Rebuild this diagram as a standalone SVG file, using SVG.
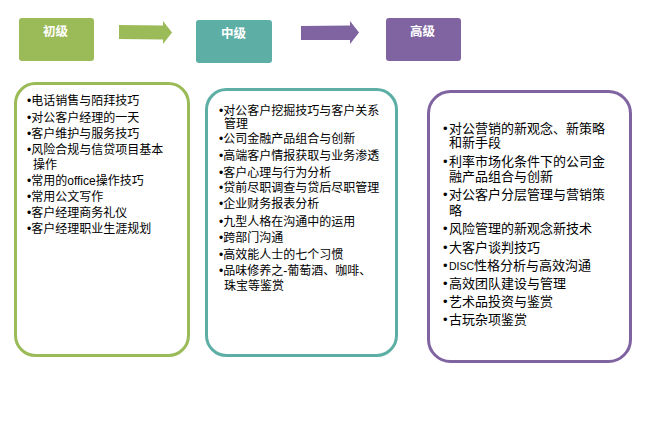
<svg xmlns="http://www.w3.org/2000/svg" width="646" height="438" viewBox="0 0 646 438">
<style>
.hd{font-family:"Liberation Sans","Noto Sans CJK SC",sans-serif;font-size:12.5px;font-weight:bold;fill:#fff;text-anchor:middle}
.t{font-family:"Liberation Sans","Noto Sans CJK SC",sans-serif;font-size:12px;fill:#000}
.t13{font-family:"Liberation Sans","Noto Sans CJK SC",sans-serif;font-size:13px;fill:#000}
.box{fill:#fff;stroke-width:3}
</style>
<rect width="646" height="438" fill="#fff"/>
<g id="connectors">
<polygon points="119,25 163,25.5 163,21 172,32.5 163,44 163,39.5 119,39" fill="#9BBB59"/>
<polygon points="301,26 350,25.5 350,21 359,32.5 350,44 350,40 301,40" fill="#8064A2"/>
</g>
<g id="h1">
<rect x="19" y="18" width="75" height="43" rx="3" fill="#9BBB59"/>
<text class="hd" x="55.5" y="36">初级</text>
</g>
<g id="h2">
<rect x="196" y="20" width="76" height="43" rx="3" fill="#5DAFA6"/>
<text class="hd" x="233.5" y="38">中级</text>
</g>
<g id="h3">
<rect x="386" y="18" width="75" height="43" rx="3" fill="#8064A2"/>
<text class="hd" x="422.5" y="36">高级</text>
</g>
<g id="b1">
<rect class="box" x="15.5" y="83.5" width="173" height="272" rx="20" stroke="#9BBB59"/>
<text class="t" x="27" y="105">•电话销售与陌拜技巧</text>
<text class="t" x="27" y="121.5">•对公客户经理的一天</text>
<text class="t" x="27" y="137.5">•客户维护与服务技巧</text>
<text class="t" x="27" y="154">•风险合规与信贷项目基本</text>
<text class="t" x="33" y="169">操作</text>
<text class="t" x="27" y="184.5">•常用的office操作技巧</text>
<text class="t" x="27" y="200.5">•常用公文写作</text>
<text class="t" x="27" y="217">•客户经理商务礼仪</text>
<text class="t" x="27" y="233">•客户经理职业生涯规划</text>
</g>
<g id="b2">
<rect class="box" x="206.5" y="89.5" width="190" height="266" rx="20" stroke="#5DAFA6"/>
<text class="t" x="219" y="114.5">•对公客户挖掘技巧与客户关系</text>
<text class="t" x="224" y="128">管理</text>
<text class="t" x="219" y="143">•公司金融产品组合与创新</text>
<text class="t" x="219" y="159.5">•高端客户情报获取与业务渗透</text>
<text class="t" x="219" y="177">•客户心理与行为分析</text>
<text class="t" x="219" y="192">•贷前尽职调查与贷后尽职管理</text>
<text class="t" x="219" y="208">•企业财务报表分析</text>
<text class="t" x="219" y="225.5">•九型人格在沟通中的运用</text>
<text class="t" x="219" y="242">•跨部门沟通</text>
<text class="t" x="219" y="259">•高效能人士的七个习惯</text>
<text class="t" x="219" y="275">•品味修养之-葡萄酒、咖啡、</text>
<text class="t" x="224" y="289.5">珠宝等鉴赏</text>
</g>
<g id="b3">
<rect class="box" x="428.5" y="91.5" width="202" height="270" rx="22" stroke="#8064A2"/>
<text class="t13" x="443" y="132.5">•<tspan x="449">对公营销的新观念、新策略</tspan></text>
<text class="t13" x="449" y="147">和新手段</text>
<text class="t13" x="443" y="166">•<tspan x="449">利率市场化条件下的公司金</tspan></text>
<text class="t13" x="449" y="180.5">融产品组合与创新</text>
<text class="t13" x="443" y="199">•<tspan x="449">对公客户分层管理与营销策</tspan></text>
<text class="t13" x="449" y="214.5">略</text>
<text class="t13" x="443" y="233">•<tspan x="449">风险管理的新观念新技术</tspan></text>
<text class="t13" x="443" y="251.5">•<tspan x="449">大客户谈判技巧</tspan></text>
<text class="t13" x="443" y="270">•<tspan x="449" font-size="10.5px">DISC</tspan>性格分析与高效沟通</text>
<text class="t13" x="443" y="288">•<tspan x="449">高效团队建设与管理</tspan></text>
<text class="t13" x="443" y="306">•<tspan x="449">艺术品投资与鉴赏</tspan></text>
<text class="t13" x="443" y="324">•<tspan x="449">古玩杂项鉴赏</tspan></text>
</g>
</svg>
